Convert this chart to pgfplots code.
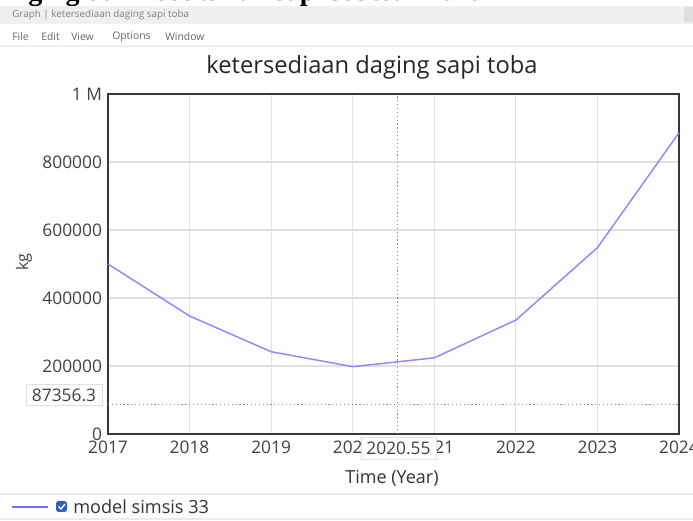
\documentclass[border=0pt]{standalone}
\usepackage{fontspec}
\setmainfont{Open Sans}
\newfontfamily\serifb{Liberation Serif}
\usepackage{pgfplots}
\pgfplotsset{compat=1.18}
\newlength\px \setlength\px{0.75pt}
\definecolor{txt}{HTML}{404040}
\definecolor{serie}{HTML}{8A8AFF}
\definecolor{chk}{HTML}{2D62B8}
\begin{document}
\begin{tikzpicture}[x=\px,y=\px]
\path[use as bounding box] (0,0) rectangle (693,521);
\fill[white] (0,0) rectangle (693,521);
% clipped caption above screenshot
\begin{scope}
\clip (0,515) rectangle (693,521);
\node[anchor=base west, font=\serifb\bfseries\fontsize{21}{24}\selectfont, inner sep=0] at (28,520) {ging dan kebutuhan sapi sebesar 2020};
\end{scope}
% window title bar
\fill[black!6] (0,497) rectangle (693,515);
\fill[black!13] (684,499) rectangle (693,514);
\node[anchor=west, font=\fontsize{7.4}{9}\selectfont, text=black!50, inner sep=0] at (12,506) {Graph | ketersediaan daging sapi toba};
% menu
\foreach \xx/\w in {12/File,41/Edit,71/View,112/Options,165/Window}
  \node[anchor=west, font=\fontsize{7.8}{9}\selectfont, text=black!60, inner sep=0] at (\xx,484) {\w};
\draw[black!6, line width=0.8pt] (0,475) -- (693,475);
% title
\node[font=\fontsize{17.8}{21}\selectfont, text=black!85] at (372,454) {ketersediaan daging sapi toba};
\begin{axis}[
  at={(108\px,87\px)}, anchor=south west,
  width=571\px, height=340\px, scale only axis,
  xmin=2017, xmax=2024, ymin=0, ymax=1000000,
  xtick={2017,2018,2019,2020,2021,2022,2023,2024},
  xticklabels={2017,2018,2019,2020,2021,2022,2023,2024},
  ytick={0,200000,400000,600000,800000,1000000},
  yticklabels={0,200000,400000,600000,800000,1 M},
  scaled y ticks=false,
  grid=major, grid style={black!12, line width=0.8pt},
  axis line style={black!78, line width=1.6pt},
  major tick length=0pt,
  tick label style={font=\fontsize{13}{15}\selectfont, text=txt},
  xticklabel style={yshift=-2pt},
  yticklabel style={xshift=-1pt},
  clip=false,
]
\addplot[serie, line width=1.1pt] coordinates {
(2017,500000) (2018,347000) (2019,242000) (2020,198000)
(2021,224000) (2022,335000) (2023,548000) (2024,886000)};
\draw[black!45, dotted, line width=0.9pt] (axis cs:2020.55,0) -- (axis cs:2020.55,1000000);
\draw[black!45, dotted, line width=0.9pt] (axis cs:2017,87356.3) -- (axis cs:2024,87356.3);
\end{axis}
% crosshair labels
\node[draw=black!12, fill=white, inner sep=0, minimum width=76\px, minimum height=21\px, font=\fontsize{13}{15}\selectfont, text=txt] at (64,126) {87356.3};
\node[draw=black!12, fill=white, inner sep=0, minimum width=75\px, minimum height=22\px, font=\fontsize{13}{15}\selectfont, text=txt] at (398.5,73) {2020.55};
% axis titles
\node[rotate=90, font=\fontsize{12}{14}\selectfont, text=txt] at (24,259) {kg};
\node[font=\fontsize{13.5}{16}\selectfont, text=black!80] at (392,43) {Time (Year)};
% legend strip
\draw[black!8, line width=0.8pt] (0,27) -- (693,27);
\draw[black!8, line width=0.8pt] (0,2) -- (693,2);
\draw[serie!80!blue, line width=1.2pt] (12,14) -- (48,14);
\fill[chk, rounded corners=2] (56,9) rectangle (67,20);
\draw[white, line width=1pt] (58.5,14.5) -- (61,12) -- (65,17);
\node[anchor=west, font=\fontsize{13.6}{16}\selectfont, text=black!80, inner sep=0] at (73,14) {model simsis 33};
\end{tikzpicture}
\end{document}
